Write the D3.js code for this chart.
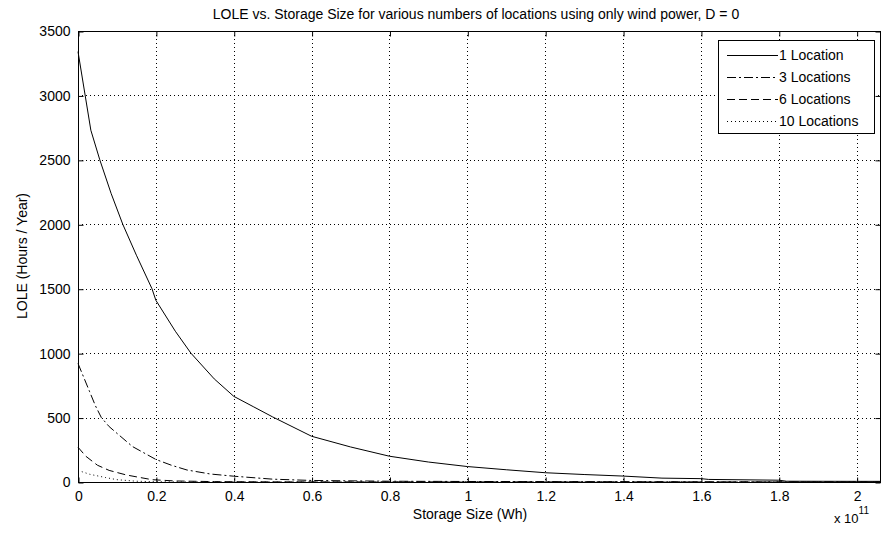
<!DOCTYPE html>
<html><head><meta charset="utf-8">
<script src="https://cdn.jsdelivr.net/npm/d3@7"></script>
<style>
body{margin:0;background:#fff;}
text{font-family:"Liberation Sans",Arial,sans-serif;fill:#000;}
</style></head>
<body><svg id="c" width="882" height="534"></svg>
<script>
// Data (x in units of 1e11 Wh, y in hours/year)
const seriesNames = ["1 Location","3 Locations","6 Locations","10 Locations"];
const x1 = [0,0.033,0.056,0.085,0.115,0.15,0.19,0.2,0.25,0.29,0.35,0.4,0.45,0.5,0.6,0.7,0.8,0.9,1.0,1.1,1.2,1.3,1.4,1.5,1.6,1.62,1.8,1.82,2.0,2.06];
const y1 = [3340,2730,2500,2240,2000,1760,1500,1410,1170,1000,800,665,585,505,355,272,200,155,120,95,72,58,46,30,26,20,14,6,5,5];
const x3 = [0,0.03,0.045,0.06,0.08,0.1,0.14,0.2,0.24,0.28,0.34,0.4,0.5,0.6,0.8,1.0,1.2,1.5,1.6,2.06];
const y3 = [920,700,590,500,430,378,275,175,130,93,62,45,22,12,6,4,3,2,1,0];
const x6 = [0,0.02,0.05,0.08,0.125,0.19,0.25,0.35,0.5,2.06];
const y6 = [270,200,130,90,54,18,8,3,1,0];
const x10 = [0,0.03,0.07,0.1,0.15,0.2,0.3,2.06];
const y10 = [90,60,35,18,6,2,0,0];
const xTicks = [0,0.2,0.4,0.6,0.8,1,1.2,1.4,1.6,1.8,2];
const yTicks = [0,500,1000,1500,2000,2500,3000,3500];
const xDomain = [0,2.06];
const yDomain = [0,3500];

const svg = d3.select("#c");
const L=78, R=880, T=31, B=482;
const x = d3.scaleLinear().domain(xDomain).range([L,R]);
const y = d3.scaleLinear().domain(yDomain).range([B,T]);

// grid
const g = svg.append("g");
g.selectAll(".gx").data(xTicks.filter(d=>d>0)).join("line")
  .attr("x1",d=>Math.round(x(d))+0.5).attr("x2",d=>Math.round(x(d))+0.5).attr("y1",T).attr("y2",B)
  .attr("stroke","#000").attr("stroke-width",1).attr("stroke-dasharray","1,3");
g.selectAll(".gy").data(yTicks.filter(d=>d>0&&d<3500)).join("line")
  .attr("y1",d=>Math.round(y(d))+0.5).attr("y2",d=>Math.round(y(d))+0.5).attr("x1",L).attr("x2",R)
  .attr("stroke","#000").attr("stroke-width",1).attr("stroke-dasharray","1,3");

// axes with inward ticks
const fs = "14px";
const ax = svg.append("g").attr("transform",`translate(0.5,${B+0.5})`)
  .call(d3.axisBottom(x).tickValues(xTicks).tickSizeInner(-5).tickSizeOuter(0).tickPadding(9).tickFormat(d=>d3.format("")(d)));
const axT = svg.append("g").attr("transform",`translate(0.5,${T+0.5})`)
  .call(d3.axisTop(x).tickValues(xTicks).tickSizeInner(-5).tickSizeOuter(0).tickFormat(""));
const ay = svg.append("g").attr("transform",`translate(${L+0.5},0.5)`)
  .call(d3.axisLeft(y).tickValues(yTicks).tickSizeInner(-5).tickSizeOuter(0).tickPadding(8).tickFormat(d3.format("d")));
const ayR = svg.append("g").attr("transform",`translate(${R+0.5},0.5)`)
  .call(d3.axisRight(y).tickValues(yTicks).tickSizeInner(-5).tickSizeOuter(0).tickFormat(""));
[ax,axT,ay,ayR].forEach(a=>{
  a.select(".domain").remove();
  a.selectAll("line").attr("stroke","#000");
  a.selectAll("text").style("font-size",fs).style("font-family","'Liberation Sans',Arial,sans-serif");
});
svg.append("rect").attr("x",L+0.5).attr("y",T+0.5).attr("width",R-L).attr("height",B-T)
  .attr("fill","none").attr("stroke","#000");

// lines
const dashes = [null,"9,3,2,3","8,4","1,3"];
const xs=[x1,x3,x6,x10], ys=[y1,y3,y6,y10];
const line = d3.line().x(d=>x(d[0])).y(d=>y(d[1]));
xs.forEach((xx,i)=>{
  const pts = xx.map((v,j)=>[v,ys[i][j]]);
  svg.append("path").datum(pts).attr("d",line).attr("fill","none")
    .attr("stroke","#000").attr("stroke-width",1)
    .attr("stroke-dasharray",dashes[i]);
});

// legend
const lg = svg.append("g");
lg.append("rect").attr("x",718.5).attr("y",40.5).attr("width",156).attr("height",93)
  .attr("fill","#fff").attr("stroke","#000");
seriesNames.forEach((n,i)=>{
  const yy = 55+i*22;
  lg.append("line").attr("x1",727).attr("x2",778).attr("y1",yy+0.5).attr("y2",yy+0.5)
    .attr("stroke","#000").attr("stroke-dasharray",dashes[i]);
  lg.append("text").attr("x",779).attr("y",yy+5).style("font-size",fs).text(n);
});

// titles
svg.append("text").attr("x",476).attr("y",19).attr("text-anchor","middle").style("font-size","14px")
  .text("LOLE vs. Storage Size for various numbers of locations using only wind power, D = 0");
svg.append("text").attr("x",470).attr("y",519).attr("text-anchor","middle").style("font-size",fs)
  .text("Storage Size (Wh)");
svg.append("text").attr("transform","translate(27,256) rotate(-90)").attr("text-anchor","middle").style("font-size",fs)
  .text("LOLE (Hours / Year)");
const ex = svg.append("text").attr("x",834).attr("y",523).style("font-size","13px");
ex.append("tspan").text("x 10");
ex.append("tspan").attr("dy",-9).style("font-size","10px").text("11");
</script></body></html>
